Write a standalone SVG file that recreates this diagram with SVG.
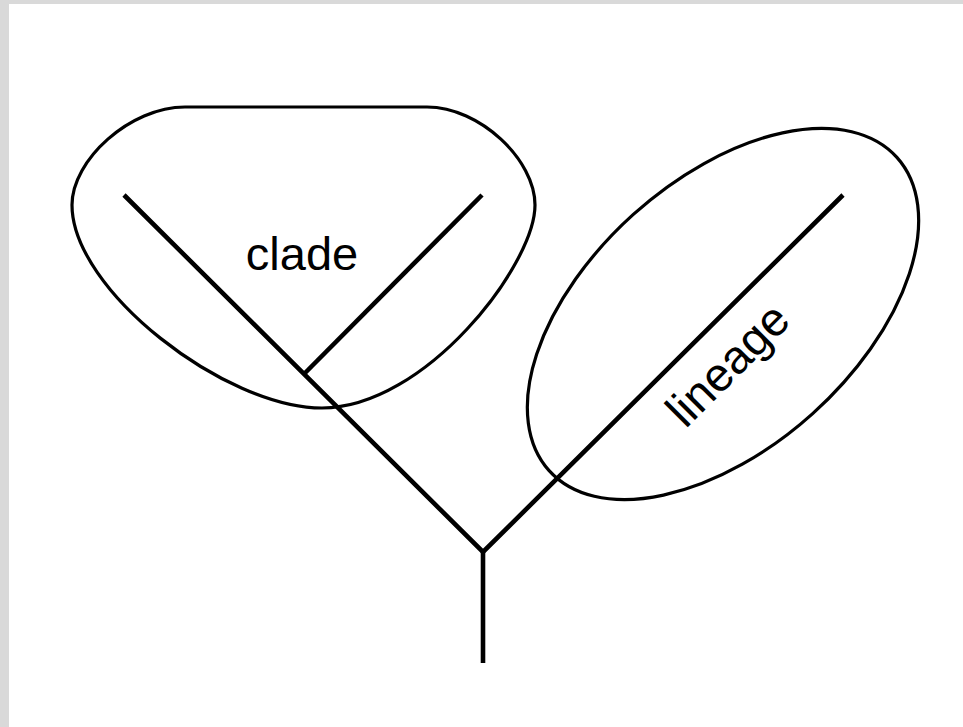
<svg xmlns="http://www.w3.org/2000/svg" width="963" height="727" viewBox="0 0 963 727">
  <style>
    .branch { fill: none; stroke: #000; stroke-width: 4.6; stroke-linecap: butt; stroke-linejoin: miter; }
    .outline { fill: none; stroke: #000; stroke-width: 3.2; }
    .label { font-family: "Liberation Sans", Arial, sans-serif; font-size: 47px; fill: #000; }
  </style>
  <!-- page frame -->
  <rect x="0" y="0" width="963" height="727" fill="#d9d9d9"/>
  <rect x="9" y="4" width="954" height="723" fill="#fff"/>

  <!-- tree branches -->
  <g id="connectors">
    <polyline class="branch" points="124,195 483,552 843,195"/>
    <line class="branch" x1="483" y1="552" x2="483" y2="663"/>
    <line class="branch" x1="305" y1="373" x2="482" y2="195"/>
  </g>

  <g id="clade">
    <path class="outline" d="M 185,107 L 427,107 C 480,107 535,160 535,205 C 535,265 425,408 322,408 C 225,408 72,290 72,205 C 72,160 130,107 185,107 Z"/>
    <text class="label" x="302" y="270" text-anchor="middle">clade</text>
  </g>

  <g id="lineage">
    <ellipse class="outline" cx="723" cy="314" rx="234" ry="134" transform="rotate(-42 723 314)"/>
    <text class="label" x="0" y="0" text-anchor="middle" transform="translate(739 376) rotate(-45)">lineage</text>
  </g>
</svg>
